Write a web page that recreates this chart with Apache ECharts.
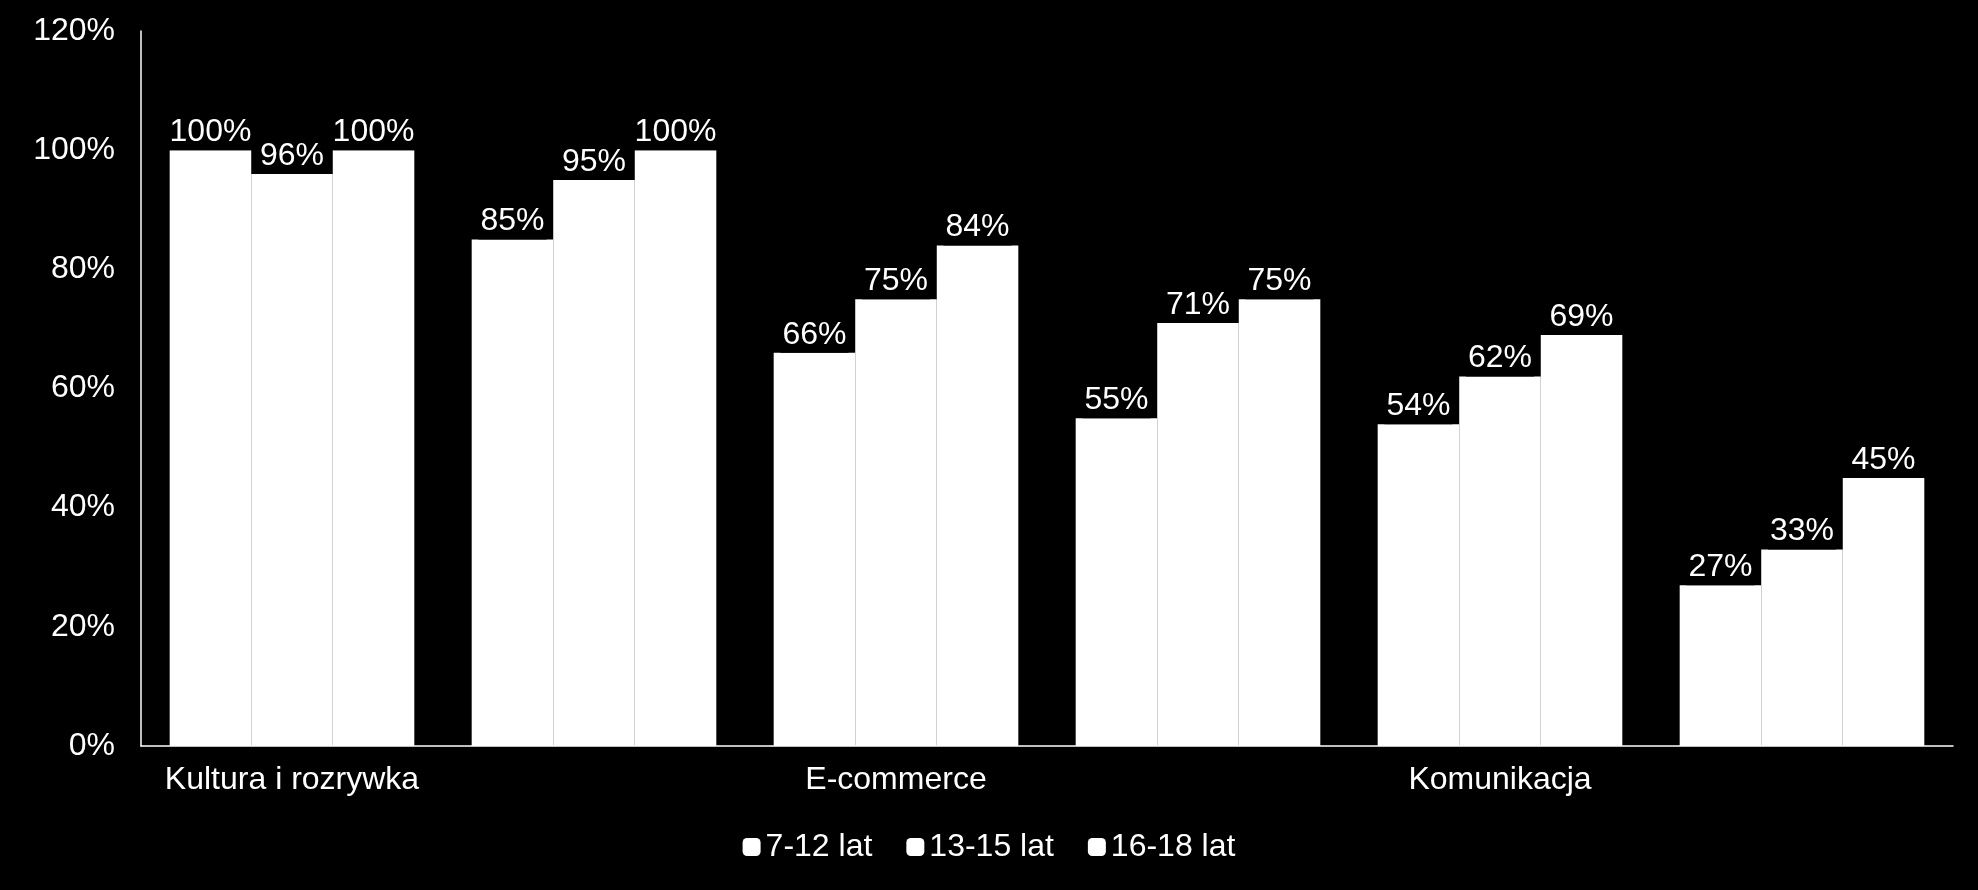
<!DOCTYPE html>
<html>
<head>
<meta charset="utf-8">
<script src="https://cdn.jsdelivr.net/npm/echarts@6/dist/echarts.min.js"></script>
<style>html,body{margin:0;background:#000;}#main{width:1978px;height:890px;}</style>
</head>
<body>
<div id="main"></div>
<script>
var categories = ['Kultura i rozrywka', 'Społeczności', 'E-commerce', 'Edukacja', 'Komunikacja', 'Erotyka'];
var group712 = [100, 85, 66, 55, 54, 27];
var group1315 = [96, 95, 75, 71, 62, 33];
var group1618 = [100, 100, 84, 75, 69, 45];
var seriesNames = ['7-12 lat', '13-15 lat', '16-18 lat'];

var font = 'Liberation Sans, Arial, sans-serif';
function mk(name, data) {
  return {
    name: name, type: 'bar', data: data,
    barGap: '0%', barCategoryGap: '19%',
    itemStyle: { color: '#fff' },
    label: {
      show: true, position: 'top', distance: 0,
      formatter: '{c}%', color: '#fff', fontSize: 32, fontFamily: font,
      backgroundColor: '#000', padding: [2, 2, 2, 2]
    }
  };
}
var chart = echarts.init(document.getElementById('main'));
chart.setOption({
  backgroundColor: '#000',
  animation: false,
  grid: { left: 141, right: 25, top: 31, bottom: 144 },
  legend: {
    bottom: 22, left: 'center', itemWidth: 18, itemHeight: 18, itemGap: 34,
    textStyle: { color: '#fff', fontSize: 32, fontFamily: font },
    data: seriesNames
  },
  xAxis: {
    type: 'category', data: categories,
    axisLine: { lineStyle: { color: '#fff', width: 1.5 } },
    axisTick: { show: false },
    axisLabel: { color: '#fff', fontSize: 32, fontFamily: font, margin: 18 }
  },
  yAxis: {
    type: 'value', min: 0, max: 120, interval: 20,
    axisLine: { show: true, lineStyle: { color: '#fff', width: 1.5 } },
    splitLine: { show: false },
    axisTick: { show: false },
    axisLabel: { formatter: '{value}%', color: '#fff', fontSize: 32, fontFamily: font, margin: 26 }
  },
  series: [mk(seriesNames[0], group712), mk(seriesNames[1], group1315), mk(seriesNames[2], group1618)]
});
</script>
</body>
</html>
